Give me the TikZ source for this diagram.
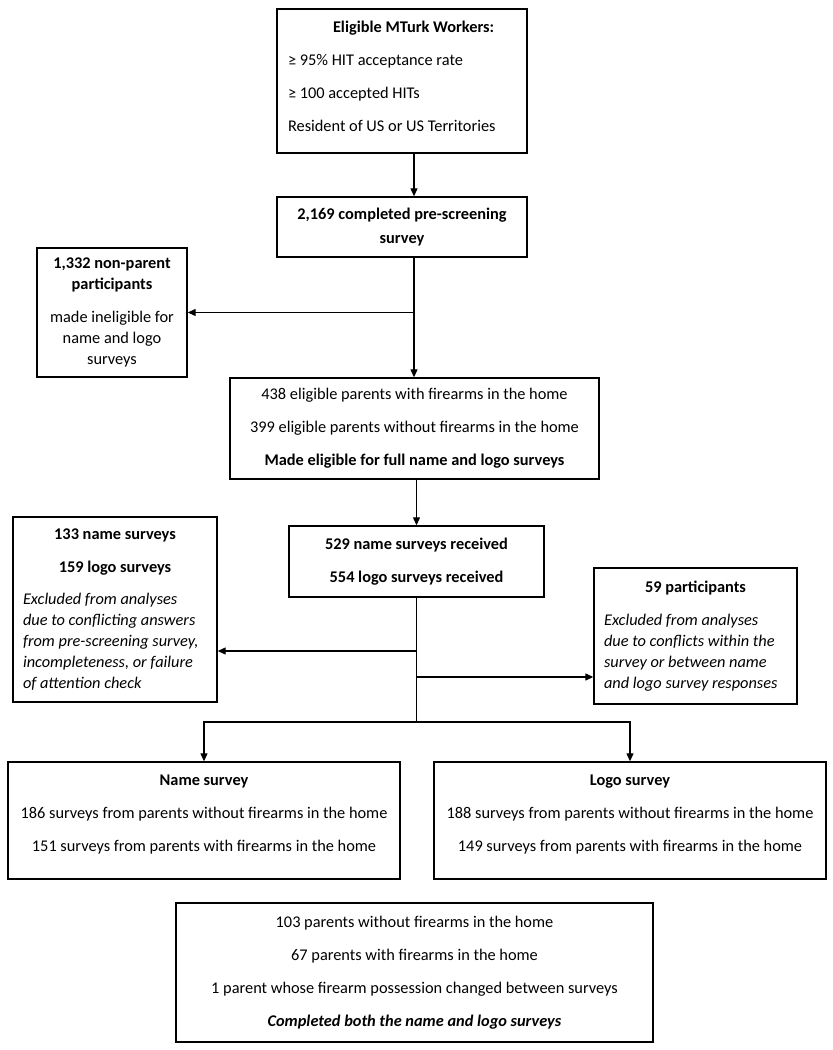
\documentclass[tikz,border=0pt]{standalone}
\usepackage{fontspec}
\setmainfont{Carlito}
\usetikzlibrary{arrows.meta}

\newcommand{\centred}[1]{\hfill#1\hfill\null}
\newcommand{\pgap}{\\[6.8pt]}

\begin{document}
\begin{tikzpicture}[x=0.02cm, y=-0.02cm,
  every node/.style={font=\fontsize{9.3}{11.9}\selectfont},
  arr/.style={-{Triangle[length=1.6mm,width=1.4mm]}, line width=0.7pt}
]

\tikzstyle{box}=[draw, line width=0.8pt, inner sep=0pt, align=center]
\tikzstyle{lbox}=[box, align=flush left, inner xsep=0.2cm]

\useasboundingbox (0,0) rectangle (832,1050);

\coordinate (spine) at (414,0);

\node [lbox, minimum width=5cm, minimum height=2.88cm, text width=4.56cm, inner xsep=0.22cm] (workers) at (402,81) {
  \hspace*{0.9cm}\textbf{Eligible MTurk Workers:}\pgap
  ≥ 95\% HIT acceptance rate\pgap
  ≥ 100 accepted HITs\pgap
  Resident of US or US Territories\rule[-5.7pt]{0pt}{5.7pt}};

\node [box, minimum width=5cm, minimum height=1.2cm] (prescreen) at (402,227) {
  \textbf{2,169 completed pre-screening}\\[1.7pt]
  \textbf{survey}};

\node [box, minimum width=3cm, minimum height=2.58cm] (nonparent) at (112,312.5) {
  \textbf{1,332 non-parent}\\
  \textbf{participants}\pgap
  made ineligible for\\
  name and logo\\
  surveys};

\node [box, minimum width=7.38cm, minimum height=2.02cm] (eligible) at (414.5,428.5) {
  438 eligible parents with firearms in the home\pgap
  399 eligible parents without firearms in the home\pgap
  \textbf{Made eligible for full name and logo surveys}};

\node [box, minimum width=5.1cm, minimum height=1.42cm] (received) at (416.5,561.5) {
  \textbf{529 name surveys received}\pgap
  \textbf{554 logo surveys received}};

\node [lbox, minimum width=4.08cm, minimum height=3.7cm, text width=3.68cm] (exclleft) at (115,609.5) {
  \centred{\textbf{133 name surveys}}\pgap
  \centred{\textbf{159 logo surveys}}\pgap
  \textit{Excluded from analyses}\\
  \textit{due to conflicting answers}\\
  \textit{from pre-screening survey,}\\
  \textit{incompleteness, or failure}\\
  \textit{of attention check}};

\node [lbox, minimum width=4.06cm, minimum height=2.72cm, text width=3.66cm] (exclright) at (695.5,636) {
  \centred{\textbf{59 participants}}\pgap
  \textit{Excluded from analyses}\\
  \textit{due to conflicts within the}\\
  \textit{survey or between name}\\
  \textit{and logo survey responses}};

\node [box, minimum width=7.84cm, minimum height=2.34cm] (namesurvey) at (204,820.5) {
  \textbf{Name survey}\pgap
  186 surveys from parents without firearms in the home\pgap
  151 surveys from parents with firearms in the home\rule[-8.5pt]{0pt}{8.5pt}};

\node [box, minimum width=7.84cm, minimum height=2.34cm] (logosurvey) at (630,820.5) {
  \textbf{Logo survey}\pgap
  188 surveys from parents without firearms in the home\pgap
  149 surveys from parents with firearms in the home\rule[-8.5pt]{0pt}{8.5pt}};

\node [box, minimum width=9.54cm, minimum height=2.78cm] (both) at (414.5,972.5) {
  103 parents without firearms in the home\pgap
  67 parents with firearms in the home\pgap
  1 parent whose firearm possession changed between surveys\pgap
  \textbf{\textit{Completed both the name and logo surveys}}};

\coordinate (jleft) at (416.5,651);
\coordinate (jright) at (416.5,677);
\coordinate (split) at (416.5,722);

\draw[arr] (workers.south -| spine) -- (prescreen.north -| spine);
\draw[arr] (prescreen.south -| spine) -- (eligible.north -| spine);
\draw[arr] (nonparent.east -| spine) -- (nonparent.east);
\draw[arr] (eligible.south -| received) -- (received.north);
\draw[line width=0.7pt] (received.south) -- (split);
\draw[arr] (jleft) -- (jleft -| exclleft.east);
\draw[arr] (jright) -- (jright -| exclright.west);
\draw[arr] (split) -| (namesurvey.north);
\draw[arr] (split) -| (logosurvey.north);
\end{tikzpicture}
\end{document}
